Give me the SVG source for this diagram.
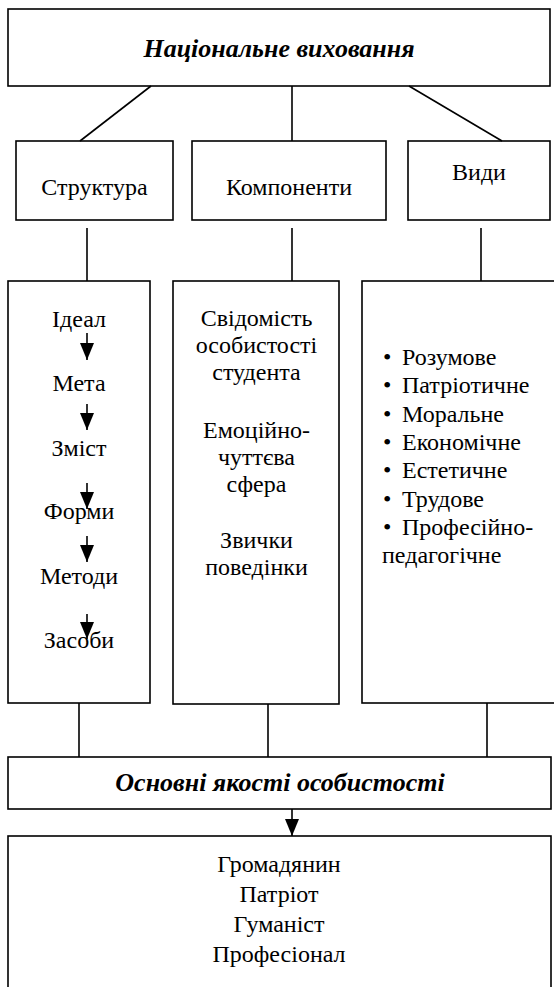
<svg xmlns="http://www.w3.org/2000/svg" width="554" height="987" viewBox="0 0 554 987">
<defs>
<marker id="ah" viewBox="0 0 17 14" refX="17" refY="7" markerWidth="17" markerHeight="14" markerUnits="userSpaceOnUse" orient="auto">
<path d="M0,0 L17,7 L0,14 Z" fill="#000"/>
</marker>
</defs>
<style>
rect{fill:#fff;stroke:#000;stroke-width:1.6}
.c line{stroke:#000;stroke-width:1.6}
text{font-family:'Liberation Serif','Times New Roman','DejaVu Serif',serif;font-size:24px;fill:#000}
.t{font-weight:bold;font-style:italic;font-size:26px}
.m{text-anchor:middle}
</style>
<g id="national">
<rect x="8" y="9" width="542" height="77"/>
<text class="t m" x="279" y="57" font-family="Liberation Serif, serif">Національне виховання</text>
</g>
<g id="structure">
<rect x="16" y="141" width="157" height="79"/>
<text class="m" x="94.5" y="195" font-family="Liberation Serif, serif">Структура</text>
</g>
<g id="components">
<rect x="192" y="141" width="194" height="79"/>
<text class="m" x="289" y="195" font-family="Liberation Serif, serif">Компоненти</text>
</g>
<g id="types">
<rect x="408" y="141" width="142" height="79"/>
<text class="m" x="479" y="180" font-family="Liberation Serif, serif">Види</text>
</g>
<g id="structure-list" font-family="Liberation Serif, serif">
<rect x="8" y="281" width="142" height="422"/>
<text class="m" x="79" y="327">Ідеал</text>
<text class="m" x="79" y="391">Мета</text>
<text class="m" x="79" y="456">Зміст</text>
<text class="m" x="79" y="519">Форми</text>
<text class="m" x="79" y="584">Методи</text>
<text class="m" x="79" y="648">Засоби</text>
</g>
<g id="components-list">
<rect x="173" y="281" width="166" height="423"/>
<text class="m" x="256.5" y="326">Свідомість</text>
<text class="m" x="256.5" y="353">особистості</text>
<text class="m" x="256.5" y="380">студента</text>
<text class="m" x="256.5" y="438">Емоційно-</text>
<text class="m" x="256.5" y="465">чуттєва</text>
<text class="m" x="256.5" y="492">сфера</text>
<text class="m" x="256.5" y="548">Звички</text>
<text class="m" x="256.5" y="575">поведінки</text>
</g>
<g id="types-list">
<rect x="362" y="281" width="200" height="422"/>
<text x="383" y="365"><tspan>•</tspan><tspan x="402">Розумове</tspan></text>
<text x="383" y="393"><tspan>•</tspan><tspan x="402">Патріотичне</tspan></text>
<text x="383" y="421.5"><tspan>•</tspan><tspan x="402">Моральне</tspan></text>
<text x="383" y="450"><tspan>•</tspan><tspan x="402">Економічне</tspan></text>
<text x="383" y="478"><tspan>•</tspan><tspan x="402">Естетичне</tspan></text>
<text x="383" y="506.5"><tspan>•</tspan><tspan x="402">Трудове</tspan></text>
<text x="383" y="535"><tspan>•</tspan><tspan x="402">Професійно-</tspan></text>
<text x="382" y="563">педагогічне</text>
</g>
<g id="qualities">
<rect x="8" y="757" width="543" height="52"/>
<text class="t m" x="280" y="791">Основні якості особистості</text>
</g>
<g id="roles">
<rect x="8" y="836" width="543" height="170"/>
<text class="m" x="279" y="872">Громадянин</text>
<text class="m" x="279" y="902">Патріот</text>
<text class="m" x="279" y="932">Гуманіст</text>
<text class="m" x="279" y="962">Професіонал</text>
</g>
<g class="c" id="connectors">
<line x1="151" y1="86" x2="80" y2="141"/>
<line x1="292" y1="86" x2="292" y2="141"/>
<line x1="409" y1="86" x2="502" y2="141"/>
<line x1="87" y1="228" x2="87" y2="281"/>
<line x1="292" y1="228" x2="292" y2="281"/>
<line x1="481" y1="228" x2="481" y2="281"/>
<line x1="87" y1="333" x2="87" y2="360" marker-end="url(#ah)"/>
<line x1="87" y1="404" x2="87" y2="430" marker-end="url(#ah)"/>
<line x1="87" y1="483" x2="87" y2="509" marker-end="url(#ah)"/>
<line x1="87" y1="536" x2="87" y2="562" marker-end="url(#ah)"/>
<line x1="87" y1="614" x2="87" y2="639" marker-end="url(#ah)"/>
<line x1="79" y1="703" x2="79" y2="757"/>
<line x1="268" y1="704" x2="268" y2="757"/>
<line x1="487" y1="703" x2="487" y2="757"/>
<line x1="292" y1="809" x2="292" y2="836" marker-end="url(#ah)"/>
</g>
</svg>
